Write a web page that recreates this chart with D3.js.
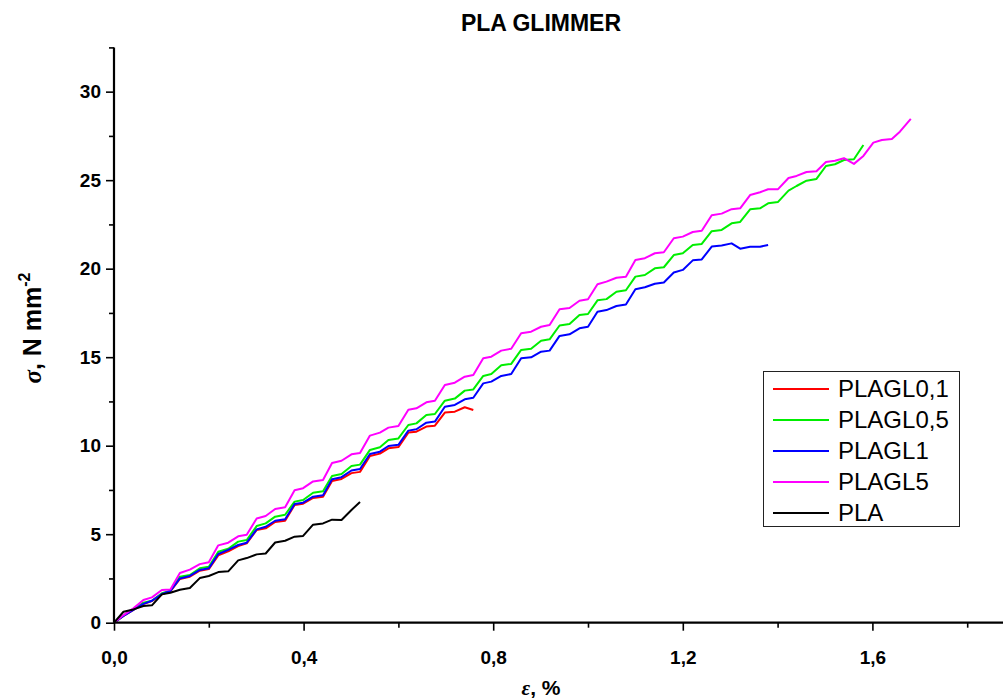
<!DOCTYPE html>
<html>
<head>
<meta charset="utf-8">
<script src="https://cdn.jsdelivr.net/npm/d3@7"></script>
<style>
  html, body { margin: 0; padding: 0; background: #fff; }
  svg { display: block; }
  text { font-family: Arial, "Liberation Sans", sans-serif; }
</style>
</head>
<body>
<svg id="chart" width="1003" height="699"></svg>
<script>
// Strain grid (ε, %) shared by all series
const strain = [0,0.020,0.041,0.062,0.080,0.101,0.119,0.139,0.160,0.181,0.200,0.220,0.241,0.262,0.280,0.301,0.320,0.340,0.361,0.381,0.399,0.420,0.441,0.460,0.480,0.501,0.519,0.540,0.561,0.579,0.600,0.621,0.638,0.659,0.677,0.698,0.719,0.740,0.758,0.779,0.796,0.817,0.838,0.859,0.880,0.901,0.919,0.940,0.961,0.982,1.000,1.020,1.039,1.060,1.080,1.100,1.120,1.141,1.160,1.181,1.200,1.221,1.240,1.261,1.282,1.303,1.321,1.342,1.363,1.380,1.401,1.423,1.440,1.461,1.482,1.502,1.521,1.540,1.561,1.581,1.602,1.620,1.641,1.658,1.681];

// Stress σ (N mm-2) per series
const plagl01 = [0,0.38,0.72,1.06,1.22,1.60,1.77,2.47,2.60,2.94,3.03,3.80,4.03,4.33,4.48,5.24,5.33,5.69,5.76,6.65,6.72,7.05,7.12,8.00,8.12,8.45,8.52,9.42,9.55,9.85,9.92,10.74,10.79,11.08,11.13,11.87,11.92,12.17,12.02];
const plagl05 = [0,0.40,0.75,1.13,1.24,1.66,1.81,2.60,2.69,3.07,3.16,4.01,4.18,4.58,4.67,5.46,5.61,5.99,6.10,6.84,6.93,7.34,7.42,8.29,8.40,8.85,8.93,9.76,9.91,10.32,10.41,11.17,11.26,11.73,11.79,12.54,12.66,13.11,13.18,13.94,14.05,14.54,14.62,15.41,15.48,15.93,16.01,16.79,16.87,17.38,17.44,18.21,18.28,18.70,18.78,19.55,19.64,20.02,20.08,20.77,20.87,21.34,21.40,22.12,22.19,22.56,22.64,23.35,23.41,23.69,23.77,24.41,24.67,24.97,25.07,25.80,25.90,26.14,26.18,26.99];
const plagl1 = [0,0.38,0.72,1.06,1.24,1.62,1.79,2.50,2.64,2.98,3.07,3.88,4.11,4.39,4.52,5.27,5.42,5.76,5.84,6.70,6.78,7.12,7.20,8.10,8.22,8.60,8.68,9.53,9.66,9.98,10.05,10.85,10.93,11.30,11.36,12.20,12.30,12.62,12.71,13.52,13.62,13.94,14.05,14.94,14.99,15.31,15.37,16.20,16.29,16.63,16.72,17.57,17.66,17.89,17.98,18.84,18.95,19.15,19.22,19.78,19.93,20.47,20.52,21.25,21.31,21.43,21.13,21.24,21.24,21.34];
const plagl5 = [0,0.43,0.81,1.28,1.43,1.85,1.88,2.81,3.00,3.31,3.41,4.37,4.52,4.88,4.97,5.89,6.03,6.42,6.52,7.48,7.60,7.98,8.06,9.02,9.15,9.51,9.59,10.57,10.74,11.02,11.11,12.03,12.11,12.45,12.54,13.43,13.56,13.90,13.99,14.94,15.03,15.37,15.48,16.35,16.44,16.72,16.82,17.71,17.78,18.19,18.27,19.12,19.27,19.49,19.55,20.49,20.59,20.87,20.93,21.72,21.81,22.07,22.14,23.02,23.11,23.36,23.41,24.16,24.32,24.49,24.49,25.12,25.24,25.46,25.50,26.03,26.10,26.24,25.92,26.37,27.12,27.27,27.33,27.74,28.46];
const pla = [0,0.62,0.75,0.94,0.98,1.60,1.69,1.86,1.96,2.52,2.64,2.86,2.90,3.52,3.65,3.86,3.91,4.53,4.63,4.86,4.90,5.54,5.61,5.82,5.80,6.37,6.82];

const seriesNames = ["PLAGL0,1","PLAGL0,5","PLAGL1","PLAGL5","PLA"];
const seriesColors = ["#ff0000","#00ee00","#0000ff","#ff00ff","#000000"];
const seriesValues = [plagl01, plagl05, plagl1, plagl5, pla];

const xTicks = [0, 0.4, 0.8, 1.2, 1.6];
const xTickLabels = ["0,0","0,4","0,8","1,2","1,6"];
const yTicks = [0, 5, 10, 15, 20, 25, 30];

const svg = d3.select("#chart");

const x = d3.scaleLinear().domain([0, 1.9]).range([114, 114 + 1.9 * 474]);
const y = d3.scaleLinear().domain([0, 32.5]).range([622.7, 47.4]);

// Series lines
const line = d3.line().x(d => x(d[0])).y(d => y(d[1]));
seriesValues.forEach((vals, i) => {
  const pts = vals.map((v, j) => [strain[j], v]);
  svg.append("path")
    .datum(pts)
    .attr("d", line)
    .attr("fill", "none")
    .attr("stroke", seriesColors[i])
    .attr("stroke-width", 2)
    .attr("stroke-linejoin", "round");
});

// X axis
const xMinor = d3.range(0, 1.9001, 0.2).filter(v => !xTicks.some(t => Math.abs(t - v) < 1e-6));
const xAxisG = svg.append("g").attr("transform", `translate(0,${y(0)})`);
xAxisG.call(d3.axisBottom(x).tickValues(xMinor).tickSize(5).tickFormat(""));
xAxisG.call(g => g.select(".domain").remove());
const xMajorG = svg.append("g").attr("transform", `translate(0,${y(0)})`)
  .call(d3.axisBottom(x).tickValues(xTicks).tickSize(8).tickPadding(20)
    .tickFormat((d, i) => xTickLabels[i]));
xMajorG.select(".domain").attr("stroke-width", 2.2).attr("d", `M${x(0)},0H1003`);
xMajorG.selectAll("text").attr("font-size", 19).attr("font-weight", "bold").attr("fill", "#000");

// Y axis
const yMinor = d3.range(2.5, 32.51, 5);
const yMinorG = svg.append("g").attr("transform", `translate(${x(0)},0)`)
  .call(d3.axisLeft(y).tickValues(yMinor).tickSize(5).tickFormat(""));
yMinorG.select(".domain").remove();
const yMajorG = svg.append("g").attr("transform", `translate(${x(0)},0)`)
  .call(d3.axisLeft(y).tickValues(yTicks).tickSize(8).tickPadding(5).tickFormat(d3.format("d")));
yMajorG.select(".domain").attr("stroke-width", 2.2).attr("d", `M0,${y(0)}V${y(32.5)}`);
yMajorG.selectAll("text").attr("font-size", 19).attr("font-weight", "bold").attr("fill", "#000");
svg.selectAll(".tick line").attr("stroke-width", 1.6);

// Title
svg.append("text").attr("x", 541).attr("y", 31).attr("text-anchor", "middle")
  .attr("font-size", 23).attr("font-weight", "bold").text("PLA GLIMMER");

// X axis label
const xl = svg.append("text").attr("x", 541).attr("y", 695).attr("text-anchor", "middle")
  .attr("font-size", 21).attr("font-weight", "bold");
xl.append("tspan").attr("font-style", "italic").attr("font-family", "'Times New Roman','Liberation Serif',serif").text("ε");
xl.append("tspan").text(", %");

// Y axis label
const yl = svg.append("text").attr("transform", "translate(41,328) rotate(-90)")
  .attr("text-anchor", "middle").attr("font-size", 25).attr("font-weight", "bold");
yl.append("tspan").attr("font-style", "italic").attr("font-family", "'Times New Roman','Liberation Serif',serif").text("σ");
yl.append("tspan").text(", N mm");
yl.append("tspan").attr("dy", -11).attr("font-size", 16).text("-2");

// Legend
const lg = svg.append("g");
lg.append("rect").attr("x", 763.5).attr("y", 371.5).attr("width", 196).attr("height", 155)
  .attr("fill", "#fff").attr("stroke", "#222").attr("stroke-width", 1);
const rowY = [389, 420, 451, 482, 513];
seriesNames.forEach((n, i) => {
  lg.append("line").attr("x1", 773).attr("x2", 829).attr("y1", rowY[i]).attr("y2", rowY[i])
    .attr("stroke", seriesColors[i]).attr("stroke-width", 2);
  lg.append("text").attr("x", 838).attr("y", rowY[i] + 8).attr("font-size", 24).attr("fill", "#000").text(n);
});
</script>
</body>
</html>
